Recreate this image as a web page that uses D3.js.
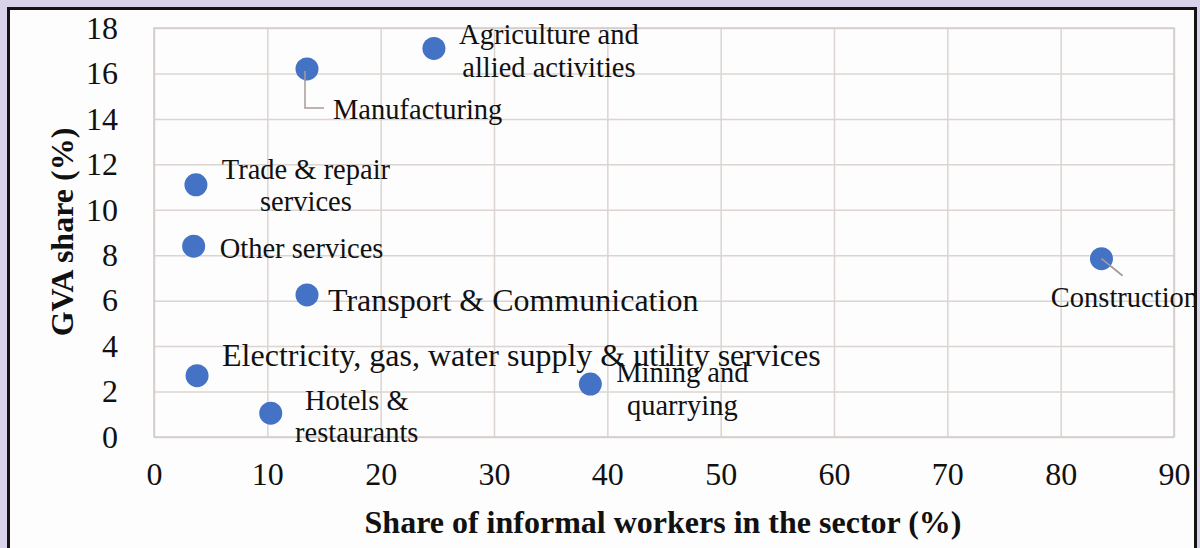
<!DOCTYPE html>
<html>
<head>
<meta charset="utf-8">
<script src="https://cdn.jsdelivr.net/npm/d3@7"></script>
<style>
  html, body { margin: 0; padding: 0; background: #d8d3ea; }
  svg { display: block; }
  text { font-family: "Liberation Serif", "Times New Roman", serif; fill: #111; }
</style>
</head>
<body>
<svg id="chart" width="1200" height="548"></svg>
<script>
// values
const sectors = ["Agriculture and allied activities", "Manufacturing", "Trade & repair services",
  "Other services", "Transport & Communication", "Electricity, gas, water supply & utility services",
  "Hotels & restaurants", "Mining and quarrying", "Construction"];
const informalShare = [24.7, 13.5, 3.7, 3.5, 13.5, 3.8, 10.3, 38.5, 83.6];
const gvaShare = [17.1, 16.2, 11.1, 8.4, 6.25, 2.7, 1.05, 2.33, 7.85];
const xTicks = [0, 10, 20, 30, 40, 50, 60, 70, 80, 90];
const yTicks = [0, 2, 4, 6, 8, 10, 12, 14, 16, 18];

// label layout: lines, offset from point, anchor, size
const labelLayout = [
  { lines: ["Agriculture and", "allied activities"], dx: 115, dy: [-14, 19], anchor: "middle", size: 28.5 },
  { lines: ["Manufacturing"], dx: 26, dy: [41], anchor: "start", size: 28.5, leader: "elbow" },
  { lines: ["Trade & repair", "services"], dx: 110, dy: [-15, 17], anchor: "middle", size: 28.5 },
  { lines: ["Other services"], dx: 26, dy: [2], anchor: "start", size: 28.5 },
  { lines: ["Transport & Communication"], dx: 21, dy: [5], anchor: "start", size: 32 },
  { lines: ["Electricity, gas, water supply & utility services"], dx: 25, dy: [-21], anchor: "start", size: 32 },
  { lines: ["Hotels &", "restaurants"], dx: 86, dy: [-13, 19], anchor: "middle", size: 28.5 },
  { lines: ["Mining and", "quarrying"], dx: 92, dy: [-12, 21], anchor: "middle", size: 28.5 },
  { lines: ["Construction"], dx: 23, dy: [39], anchor: "middle", size: 28.5, leader: "diag" }
];

const svg = d3.select("#chart");

// white panel with black frame
svg.append("defs").append("clipPath").attr("id", "panel")
  .append("rect").attr("x", 8).attr("y", 8).attr("width", 1188).attr("height", 560);
svg.append("rect").attr("x", 8).attr("y", 8).attr("width", 1188).attr("height", 560)
  .attr("fill", "#fdfdfe");

const x = d3.scaleLinear().domain([0, 90]).range([154, 1174]);
const y = d3.scaleLinear().domain([0, 18]).range([437, 28]);

const g = svg.append("g").attr("clip-path", "url(#panel)");

// grid
g.append("g").attr("transform", "translate(0,437)")
  .call(d3.axisBottom(x).tickValues(xTicks).tickSize(-(437 - 28)).tickFormat(""))
  .call(a => a.select(".domain").remove())
  .call(a => a.selectAll("line").attr("stroke", "#dcd4d0").attr("stroke-width", 1.5));
g.append("g").attr("transform", "translate(154,0)")
  .call(d3.axisLeft(y).tickValues(yTicks).tickSize(-(1174 - 154)).tickFormat(""))
  .call(a => a.select(".domain").remove())
  .call(a => a.selectAll("line").attr("stroke", "#dcd4d0").attr("stroke-width", 1.5));
g.append("rect").attr("x", 154).attr("y", 28).attr("width", 1020).attr("height", 409)
  .attr("fill", "none").attr("stroke", "#d4ccc8").attr("stroke-width", 1.5);

// tick labels
const xAxis = g.append("g").attr("transform", "translate(0,437)")
  .call(d3.axisBottom(x).tickValues(xTicks).tickSize(0).tickPadding(38));
const yAxis = g.append("g").attr("transform", "translate(154,0)")
  .call(d3.axisLeft(y).tickValues(yTicks).tickSize(0).tickPadding(36));
[xAxis, yAxis].forEach(a => {
  a.select(".domain").remove();
  a.selectAll("text").style("font-family", "Liberation Serif").style("font-size", "32px").attr("fill", "#111");
});
xAxis.selectAll("text").attr("dy", "0.32em");

// axis titles
g.append("text").attr("x", 663).attr("y", 522).attr("text-anchor", "middle")
  .attr("dominant-baseline", "central").style("font-size", "32px").style("font-weight", "bold")
  .text("Share of informal workers in the sector (%)");
g.append("text").attr("transform", "translate(62,232) rotate(-90)").attr("text-anchor", "middle")
  .attr("dominant-baseline", "central").style("font-size", "32px").style("font-weight", "bold")
  .text("GVA share (%)");

const pts = sectors.map((s, i) => ({ name: s, px: x(informalShare[i]), py: y(gvaShare[i]), lay: labelLayout[i] }));

// leader lines
pts.forEach(p => {
  if (p.lay.leader === "elbow") {
    g.append("path")
      .attr("d", `M${p.px - 2},${p.py + 2}V${p.py + p.lay.dy[0] - 2}H${p.px + p.lay.dx - 9}`)
      .attr("fill", "none").attr("stroke", "#a89c98").attr("stroke-width", 1.5);
  } else if (p.lay.leader === "diag") {
    g.append("line").attr("x1", p.px).attr("y1", p.py).attr("x2", p.px + 21).attr("y2", p.py + 17)
      .attr("stroke", "#a89c98").attr("stroke-width", 1.5);
  }
});

// points
g.selectAll("circle.pt").data(pts).enter().append("circle").attr("class", "pt")
  .attr("cx", d => d.px).attr("cy", d => d.py).attr("r", 11.5).attr("fill", "#4472c4");
// redraw leader tip over points
pts.filter(p => p.lay.leader).forEach(p => {
  const d = p.lay.leader === "elbow"
    ? `M${p.px - 2},${p.py + 2}V${p.py + 12}`
    : `M${p.px},${p.py}L${p.px + 21},${p.py + 17}`;
  g.append("path").attr("d", d).attr("fill", "none").attr("stroke", "#a89c98").attr("stroke-width", 1.5);
});

// labels
pts.forEach(p => {
  p.lay.lines.forEach((ln, j) => {
    g.append("text").attr("x", p.px + p.lay.dx).attr("y", p.py + p.lay.dy[j])
      .attr("text-anchor", p.lay.anchor).attr("dominant-baseline", "central")
      .style("font-size", p.lay.size + "px").text(ln);
  });
});

// frame
svg.append("rect").attr("x", 8.5).attr("y", 8.5).attr("width", 1187).attr("height", 560)
  .attr("fill", "none").attr("stroke", "#141414").attr("stroke-width", 3);
</script>
</body>
</html>
